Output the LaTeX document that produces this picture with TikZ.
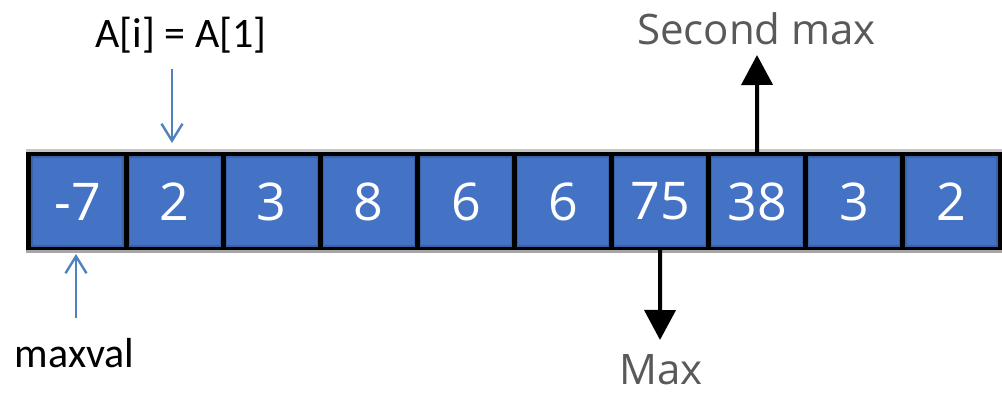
\documentclass[tikz,border=0pt]{standalone}
\usepackage{fontspec}
\setmainfont{Open Sans}
\newfontfamily\carlitofont{Carlito}
\usetikzlibrary{arrows.meta}
\definecolor{cellblue}{HTML}{4472C4}
\definecolor{celledge}{HTML}{3A62A8}
\definecolor{arrblue}{HTML}{4F81BD}
\definecolor{txtgray}{HTML}{595959}
\tikzset{
  cell/.style={fill=cellblue, draw=celledge, line width=1.2pt, minimum width=91pt, minimum height=89pt, inner sep=0pt, text=white, font=\fontsize{52}{60}\selectfont},
  callabel/.style={anchor=base, inner sep=0pt, text=black, font=\carlitofont\fontsize{42}{50}\selectfont},
  graylabel/.style={anchor=base, inner sep=0pt, text=txtgray, font=\fontsize{42}{50}\selectfont},
  bluearrow/.style={draw=arrblue, line width=2.4pt, -{Straight Barb[length=17pt,width=21pt]}},
  blackarrow/.style={draw=black, line width=4pt, -{Triangle[length=30pt,width=31pt]}},
}
\begin{document}
\begin{tikzpicture}[x=1pt,y=-1pt]
\useasboundingbox (0,0) rectangle (1002,393);
% grey bands and black frame
\fill[gray!45] (26,149) rectangle (1002,152);
\fill[gray!70] (26,250) rectangle (1002,253);
\fill[black] (26,152) rectangle (1002,250);
% cells
\foreach \v [count=\i from 0] in {-7,2,3,8,6,6,75,38,3,2} {
  \node[cell] (c\i) at ({31.5+97.1*\i+46}, 201.5) {\v};
}
% labels
\node[callabel] (ai) at (181,48) {A[i] = A[1]};
\node[callabel] (mv) at (74.5,367) {maxval};
\node[graylabel] (smax) at (756.5,45) {Second max};
\node[graylabel] (mx) at (661,384) {Max};
% free ends
\coordinate (aitail) at (172,69);
\coordinate (aitip) at (172,143);
\coordinate (mvtail) at (76,318);
\coordinate (mvtip) at (76,254);
\coordinate (smaxtip) at (757,55);
\coordinate (mxtip) at (660,340);
% connectors
\draw[bluearrow] (aitail) -- (aitip);
\draw[bluearrow] (mvtail) -- (mvtip);
\draw[blackarrow] (c7.north |- 0,152) -- (smaxtip);
\draw[blackarrow] (c6.south |- 0,250) -- (mxtip);
\end{tikzpicture}
\end{document}
